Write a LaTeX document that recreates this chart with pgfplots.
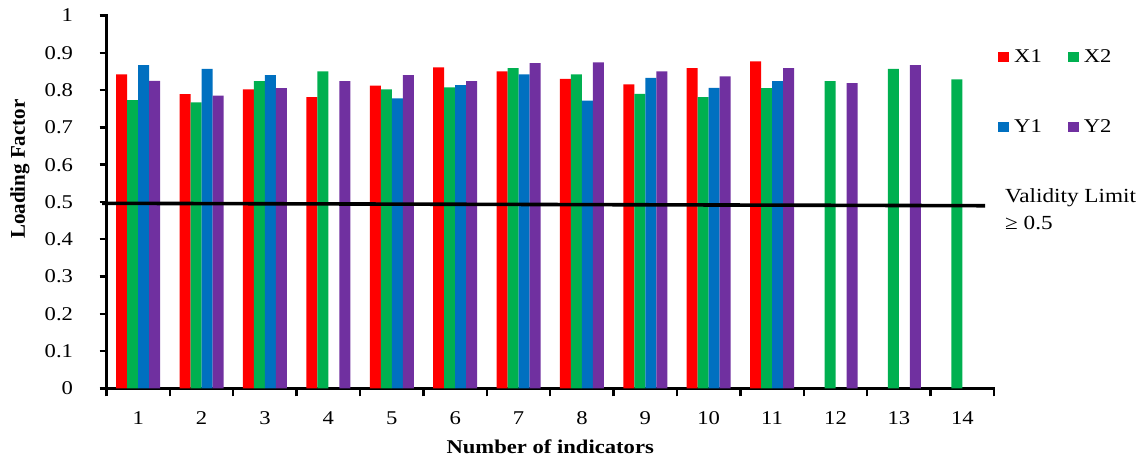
\documentclass[border=0pt]{standalone}
\usepackage{pgfplots}
\pgfplotsset{compat=1.18}
\usepackage{fontspec}
\setmainfont{Liberation Serif}[FakeStretch=1.16]
\newfontfamily\plainfont{Liberation Serif}
\definecolor{cX1}{HTML}{FF0000}
\definecolor{cX2}{HTML}{00B050}
\definecolor{cY1}{HTML}{0070C0}
\definecolor{cY2}{HTML}{7030A0}
\begin{document}
\begin{tikzpicture}
\path[use as bounding box] (0pt,0pt) rectangle (1145pt,462pt);
\begin{axis}[
  at={(106.5pt,73.5pt)}, anchor=south west,
  scale only axis, width=887.5pt, height=373pt,
  ybar=0pt, bar width=11pt,
  xmin=0.5, xmax=14.5, ymin=0, ymax=1,
  axis lines*=left,
  axis line style={line width=2.6pt, line cap=rect},
  xtick={1,...,14},
  minor xtick={0.5,1.5,...,14.5},
  major x tick style={draw=none},
  minor x tick style={line width=2.4pt, black},
  minor tick length=8pt,
  ytick={0,0.1,...,1.0},
  yticklabels={0,0.1,0.2,0.3,0.4,0.5,0.6,0.7,0.8,0.9,1},
  major y tick style={line width=2.4pt, black},
  major tick length=7pt,
  tick align=outside,
  /pgf/number format/assume math mode=true,
  ticklabel style={font=\fontsize{19.5}{19.5}\selectfont},
  xticklabel style={yshift=-13pt},
  yticklabel style={xshift=-23pt},
  xlabel={\textbf{Number of indicators}},
  ylabel={\textbf{\plainfont Loading Factor}},
  xlabel style={font=\fontsize{19.5}{19.5}\selectfont, at={(axis description cs:0.5,-0.157)}, anchor=center},
  ylabel style={font=\fontsize{21}{21}\selectfont, at={(axis description cs:-0.0975,0.588)}, anchor=center},
  clip=false,
  legend columns=2,
  legend style={at={(axis description cs:1.0045,0.915)}, anchor=north west,
    draw=none, fill=none, inner sep=0pt,
    font=\fontsize{19.5}{19.5}\selectfont,
    /tikz/every even column/.append style={column sep=24pt},
    row sep=52pt,
    nodes={inner sep=2pt}},
  legend image code/.code={\fill[#1] (0pt,-5pt) rectangle (11pt,5pt);},
]
\addplot[fill=cX1, draw=none] coordinates {
(1,0.842) (2,0.789) (3,0.802) (4,0.781) (5,0.812) (6,0.861) (7,0.850) (8,0.830) (9,0.815) (10,0.859) (11,0.877)};
\addplot[fill=cX2, draw=none] coordinates {
(1,0.773) (2,0.767) (3,0.824) (4,0.850) (5,0.802) (6,0.807) (7,0.859) (8,0.842) (9,0.790) (10,0.781) (11,0.805) (12,0.824) (13,0.857) (14,0.829)};
\addplot[fill=cY1, draw=none] coordinates {
(1,0.867) (2,0.857) (3,0.840) (5,0.778) (6,0.813) (7,0.842) (8,0.772) (9,0.833) (10,0.806) (11,0.824)};
\addplot[fill=cY2, draw=none] coordinates {
(1,0.825) (2,0.785) (3,0.805) (4,0.824) (5,0.840) (6,0.824) (7,0.872) (8,0.874) (9,0.850) (10,0.837) (11,0.859) (12,0.819) (13,0.867)};
\legend{\hspace{3pt}X1,\hspace{3pt}X2,\hspace{3pt}Y1,\hspace{3pt}Y2}
\addplot[sharp plot, black, line width=3.6pt, forget plot] coordinates {(0.43,0.4965) (14.36,0.490)};
\node[anchor=north west, align=left, inner sep=0pt, font=\fontsize{20}{27}\selectfont]
  at (axis description cs:1.0124,0.537) {Validity Limit\\≥ 0.5};
\end{axis}
\end{tikzpicture}
\end{document}
